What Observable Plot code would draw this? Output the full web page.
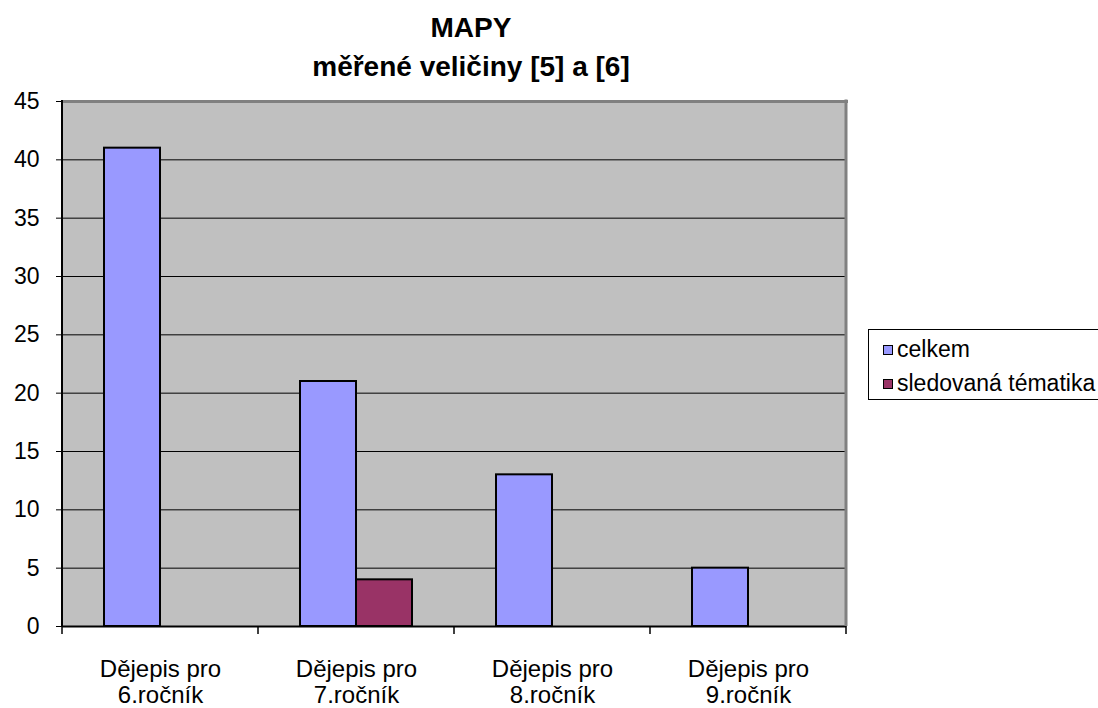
<!DOCTYPE html>
<html><head><meta charset="utf-8">
<script src="https://cdn.jsdelivr.net/npm/d3@7"></script>
<script src="https://cdn.jsdelivr.net/npm/@observablehq/plot@0.6"></script>
<style>
html,body{margin:0;padding:0;background:#fff;width:1098px;height:708px;overflow:hidden;font-family:"Liberation Sans",Arial,sans-serif;}
#title{position:absolute;left:0;top:8px;width:942px;text-align:center;font-weight:bold;font-size:28px;line-height:39px;color:#000}
#chart{position:absolute;left:0;top:80px}
#legend{position:absolute;left:868px;top:329px;width:260px;height:71px;border:1px solid #000;background:#fff;box-sizing:border-box;font-size:23px;color:#000}
.item{position:absolute;left:14px;height:26px;line-height:26px;white-space:nowrap}
.sw{display:inline-block;width:8px;height:8px;border:1px solid #000;margin-right:4px;vertical-align:middle;position:relative;top:-1px}
</style>
</head><body>
<div id="title">MAPY<br>měřené veličiny [5] a [6]</div>
<div id="chart"></div>
<div id="legend"></div>
<script>
const categories = ["Dějepis pro\n6.ročník", "Dějepis pro\n7.ročník", "Dějepis pro\n8.ročník", "Dějepis pro\n9.ročník"];
const seriesNames = ["celkem", "sledovaná tématika"];
const celkem = [41, 21, 13, 5];
const sledovana = [0, 4, 0, 0];
const seriesColors = ["#9999ff", "#993366"];
const yTicks = [0, 5, 10, 15, 20, 25, 30, 35, 40, 45];

const table = categories.flatMap((c, i) => [
  {cat: c, series: seriesNames[0], value: celkem[i]},
  {cat: c, series: seriesNames[1], value: sledovana[i]}
]);

const W = 1098, H = 628;
const chart = Plot.plot({
  width: W, height: H,
  marginLeft: 61, marginRight: W - 846, marginTop: 21, marginBottom: 82,
  style: {fontFamily: "Liberation Sans, Arial, sans-serif", background: "transparent", color: "#000"},
  fx: {domain: categories, padding: 0, axis: null, label: null},
  x: {domain: seriesNames, paddingInner: 0, paddingOuter: 0.75, axis: null, label: null},
  y: {domain: [0, 45], axis: null, label: null},
  color: {domain: seriesNames, range: seriesColors},
  marks: [
    Plot.frame({fill: "#c0c0c0", stroke: "none", shapeRendering: "crispEdges"}),
    Plot.gridY(yTicks.filter(t => t > 0 && t < 45), {stroke: "#000", strokeOpacity: 1, strokeWidth: 1}),
    Plot.barY(table, {fx: "cat", x: "series", y: "value", fill: "series", stroke: "#000", strokeWidth: 2, filter: d => d.value > 0}),
    Plot.frame({anchor: "top", stroke: "#808080", strokeWidth: 3}),
    Plot.ruleY([0], {stroke: "#000", strokeWidth: 2}),
    Plot.axisY(yTicks, {tickSize: 6, tickPadding: 17, fontSize: 23, stroke: "#000", strokeWidth: 1, label: null}),
    Plot.axisFx({anchor: "bottom", tickSize: 0, tickPadding: 32, fontSize: 24, lineHeight: 1.08, label: null})
  ]
});
document.getElementById("chart").appendChild(chart);

// axis lines and category boundary ticks, positioned from the library's scales
const fx = chart.scale("fx"), y = chart.scale("y");
const y0 = y.apply(0), yTop = y.apply(45);
const bounds = categories.map(c => fx.apply(c)).concat([fx.apply(categories[categories.length - 1]) + fx.bandwidth]);
const g = d3.select(chart).append("g");
const x0 = bounds[0], xEnd = bounds[bounds.length - 1];
g.append("line").attr("x1", xEnd).attr("x2", xEnd).attr("y1", yTop - 1.5).attr("y2", y0).attr("stroke", "#808080").attr("stroke-width", 3);
g.append("line").attr("x1", x0).attr("x2", x0).attr("y1", yTop - 1).attr("y2", y0 + 1).attr("stroke", "#000").attr("stroke-width", 2);
g.selectAll("line.b").data(bounds).join("line").attr("class", "b")
  .attr("x1", d => d).attr("x2", d => d).attr("y1", y0).attr("y2", y0 + 8)
  .attr("stroke", "#000").attr("stroke-width", 1.5);

// legend
const leg = d3.select("#legend");
const rowTops = [6, 40];
seriesNames.forEach((s, i) => {
  const it = leg.append("div").attr("class", "item").style("top", rowTops[i] + "px");
  it.append("span").attr("class", "sw").style("background", seriesColors[i]);
  it.append("span").text(s);
});
</script>
</body></html>
